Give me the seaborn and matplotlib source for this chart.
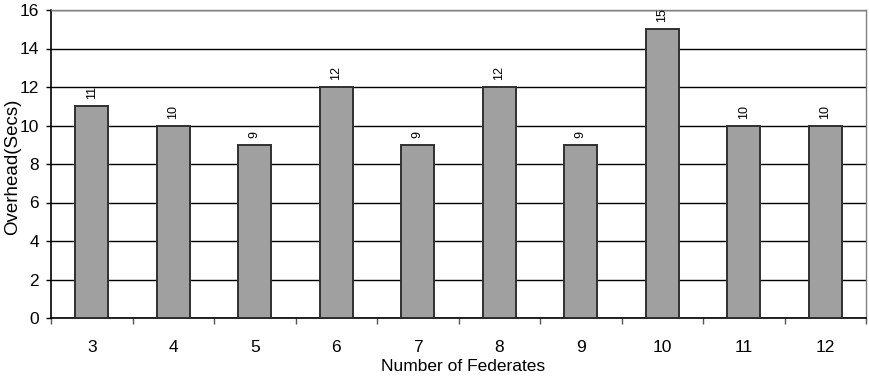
import matplotlib
matplotlib.use("Agg")
import matplotlib.pyplot as plt
import seaborn as sns
import numpy as np
import pandas as pd

federates = ["3", "4", "5", "6", "7", "8", "9", "10", "11", "12"]
overhead = [11, 10, 9, 12, 9, 12, 9, 15, 10, 10]
y_ticks = [0, 2, 4, 6, 8, 10, 12, 14, 16]

sns.set_theme(style="white")
plt.rcParams["font.family"] = ["Liberation Sans", "DejaVu Sans"]

df = pd.DataFrame({"federates": federates, "overhead": overhead})

fig = plt.figure(figsize=(8.69, 3.83), dpi=100)
ax = fig.add_axes([51 / 869, 1 - 318 / 383, (866 - 51) / 869, (318 - 10) / 383])

sns.barplot(data=df, x="federates", y="overhead", color="#a0a0a0",
            width=0.405, edgecolor="#303030", linewidth=1.4, saturation=1,
            ax=ax, zorder=3)

ax.set_ylim(0, 16)
ax.set_xlim(-0.5, len(federates) - 0.5)
ax.set_yticks(y_ticks)
ax.yaxis.grid(True, color="black", linewidth=1.0)
ax.set_axisbelow(True)

for v in ax.containers:
    ax.bar_label(v, labels=[str(x) for x in overhead], rotation=90,
                 padding=5, fontsize=9, color="black")

# category boundaries as tick marks below the axis
ax.set_xticks(np.arange(-0.5, len(federates), 1.0), minor=True)
ax.tick_params(axis="x", which="minor", length=4.5, width=1, color="#555555",
               direction="out", bottom=True)
ax.tick_params(axis="x", which="major", length=0, pad=16, labelsize=12.5,
               labelcolor="black")
ax.tick_params(axis="y", which="major", length=3.5, width=1, color="black",
               direction="out", left=True, labelsize=12.5, pad=5,
               labelcolor="black")

for side in ["top", "right"]:
    ax.spines[side].set_color("#808080")
    ax.spines[side].set_linewidth(1.0)
for side in ["left", "bottom"]:
    ax.spines[side].set_color("black")
    ax.spines[side].set_linewidth(1.2)

ax.set_xlabel("Number of Federates", fontsize=12.5, color="black")
ax.set_ylabel("Overhead(Secs)", fontsize=13.5, color="black")
ax.xaxis.set_label_coords(0.505, -0.133)
ax.yaxis.set_label_coords(-0.037, 0.49)

fig.savefig("out.png", dpi=100)
